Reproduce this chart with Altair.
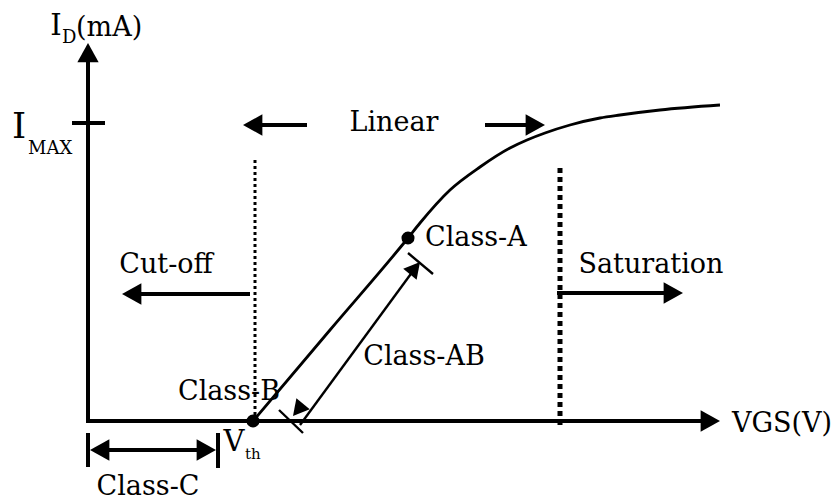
import altair as alt
import pandas as pd

# Diagram coordinates: VGS along x, drain current I_D along y (arbitrary units,
# origin at the axis corner).
X_DOMAIN = [-88, 743]
Y_DOMAIN = [-79, 421]

# Transfer characteristic I_D(VGS): zero below Vth, linear rise, then saturation
curve_vgs = [165, 242, 320, 332, 362, 392, 422, 439, 457, 482, 512, 532, 572, 632]
curve_id = [0, 91, 183, 198, 231, 254, 273, 281, 288, 296, 303, 306, 311, 316]

VTH = 165
I_MAX = 298

# Bias points marked on the curve
bias_names = ["Class-A", "Vth"]
bias_vgs = [320, 165]
bias_id = [183, 0]

# Heavy strokes: axes, region arrows, I_MAX tick, Class-C brackets
heavy_segments = {
    "y_axis": ([0, 0], [0, 365]),
    "x_axis": ([-2, 618], [0, 0]),
    "imax_tick": ([-16, 17], [I_MAX, I_MAX]),
    "cutoff_arrow": ([162, 50], [127, 127]),
    "saturation_arrow": ([469, 580], [128, 128]),
    "linear_left": ([219, 170], [296, 296]),
    "linear_right": ([397, 442], [296, 296]),
    "classc_span": ([10, 120], [-29, -29]),
    "classc_left_bar": ([0, 0], [-12, -46]),
    "classc_right_bar": ([130, 130], [-12, -47]),
}

# Light strokes: Class-AB span drawn beside the curve, with its end ticks
light_segments = {
    "classab_span": ([212, 325], [-4, 150]),
    "classab_tick_top": ([320, 345], [168, 147]),
    "classab_tick_bottom": ([191, 215], [11, -12]),
}

# Region boundaries
cutoff_boundary = ([167, 167], [261, 0])
saturation_boundary = ([472, 472], [253, -4])

# Arrow heads: tip position and pointing direction (degrees clockwise from up)
head_vgs = [0, 632, 34, 595, 155, 457, 2, 128]
head_id = [378, 0, 127, 128, 296, 296, -29, -29]
head_dir = [0, 90, 270, 90, 270, 90, 270, 90]

small_head_vgs = [332, 205]
small_head_id = [159, 5]
small_head_dir = [39.6, 219.6]

# Region and bias-class labels
label_text = ["Linear", "Cut-off", "Saturation", "Class-AB", "Class-B", "Class-C"]
label_vgs = [306, 78, 563, 336, 141, 60]
label_id = [298, 156, 156, 64, 29, -66]

left_label_text = ["Class-A", "VGS(V)", "(mA)"]
left_label_vgs = [337, 644, -12]
left_label_id = [183, -3, 393]

# Symbols with subscripts
symbol_text = ["I", "V"]
symbol_vgs = [-32, 146]
symbol_id = [395, -21]

imax_symbol = ["I"]
imax_vgs = [-69]
imax_id = [294]

sub_text = ["D", "MAX"]
sub_vgs = [-26, -60]
sub_id = [383, 272]

sub_small_text = ["th"]
sub_small_vgs = [157]
sub_small_id = [-33]

FONT = "DejaVu Serif"
ARROW = "M0,0L-0.55,1L0.55,1Z"

xs = alt.Scale(domain=X_DOMAIN, nice=False, zero=False)
ys = alt.Scale(domain=Y_DOMAIN, nice=False, zero=False)


def enc(extra=None):
    e = dict(
        x=alt.X("x:Q", scale=xs, axis=None),
        y=alt.Y("y:Q", scale=ys, axis=None),
    )
    if extra:
        e.update(extra)
    return e


def seg_frame(segments):
    rows = []
    for name, (sx, sy) in segments.items():
        for i, (a, b) in enumerate(zip(sx, sy)):
            rows.append({"seg": name, "order": i, "x": a, "y": b})
    return pd.DataFrame(rows)


def pts(xv, yv, **cols):
    d = {"x": xv, "y": yv}
    d.update(cols)
    return pd.DataFrame(d)


curve = alt.Chart(pts(curve_vgs, curve_id, order=list(range(len(curve_vgs))))).mark_line(
    color="black", strokeWidth=2.8, interpolate="monotone"
).encode(**enc({"order": alt.Order("order:Q")}))

heavy = alt.Chart(seg_frame(heavy_segments)).mark_line(
    color="black", strokeWidth=4, strokeCap="butt"
).encode(**enc({"detail": "seg:N", "order": alt.Order("order:Q")}))

light = alt.Chart(seg_frame(light_segments)).mark_line(
    color="black", strokeWidth=2.4, strokeCap="butt"
).encode(**enc({"detail": "seg:N", "order": alt.Order("order:Q")}))

dotted = alt.Chart(pts(*cutoff_boundary, order=[0, 1])).mark_line(
    color="black", strokeWidth=3, strokeDash=[3, 3], strokeCap="butt"
).encode(**enc({"order": alt.Order("order:Q")}))

dashed = alt.Chart(pts(*saturation_boundary, order=[0, 1])).mark_line(
    color="black", strokeWidth=5, strokeDash=[5, 4], strokeCap="butt"
).encode(**enc({"order": alt.Order("order:Q")}))

heads = alt.Chart(pts(head_vgs, head_id, dir=head_dir)).mark_point(
    shape=ARROW, filled=True, color="black", opacity=1, size=1500, strokeWidth=0
).encode(**enc({"angle": alt.Angle("dir:Q", scale=None)}))

small_heads = alt.Chart(pts(small_head_vgs, small_head_id, dir=small_head_dir)).mark_point(
    shape=ARROW, filled=True, color="black", opacity=1, size=1000, strokeWidth=0
).encode(**enc({"angle": alt.Angle("dir:Q", scale=None)}))

dots = alt.Chart(pts(bias_vgs, bias_id, name=bias_names)).mark_circle(
    color="black", opacity=1, size=170
).encode(**enc())

labels = alt.Chart(pts(label_vgs, label_id, t=label_text)).mark_text(
    font=FONT, fontSize=27, align="center", baseline="middle", color="black"
).encode(**enc({"text": "t:N"}))

left_labels = alt.Chart(pts(left_label_vgs, left_label_id, t=left_label_text)).mark_text(
    font=FONT, fontSize=27, align="left", baseline="middle", color="black"
).encode(**enc({"text": "t:N"}))

symbols = alt.Chart(pts(symbol_vgs, symbol_id, t=symbol_text)).mark_text(
    font=FONT, fontSize=29, align="center", baseline="middle", color="black"
).encode(**enc({"text": "t:N"}))

imax_sym = alt.Chart(pts(imax_vgs, imax_id, t=imax_symbol)).mark_text(
    font=FONT, fontSize=36, align="center", baseline="middle", color="black"
).encode(**enc({"text": "t:N"}))

subs = alt.Chart(pts(sub_vgs, sub_id, t=sub_text)).mark_text(
    font=FONT, fontSize=18, align="left", baseline="middle", color="black"
).encode(**enc({"text": "t:N"}))

subs_small = alt.Chart(pts(sub_small_vgs, sub_small_id, t=sub_small_text)).mark_text(
    font=FONT, fontSize=15, align="left", baseline="middle", color="black"
).encode(**enc({"text": "t:N"}))

chart = alt.layer(
    dotted, dashed, curve, light, heavy, heads, small_heads, dots,
    labels, left_labels, symbols, imax_sym, subs, subs_small,
).properties(
    width=831, height=500, background="white", padding=0,
    autosize=alt.AutoSizeParams(type="none"),
).configure_view(stroke=None)

chart.save("out.html", embed_options={"renderer": "svg", "actions": False})
